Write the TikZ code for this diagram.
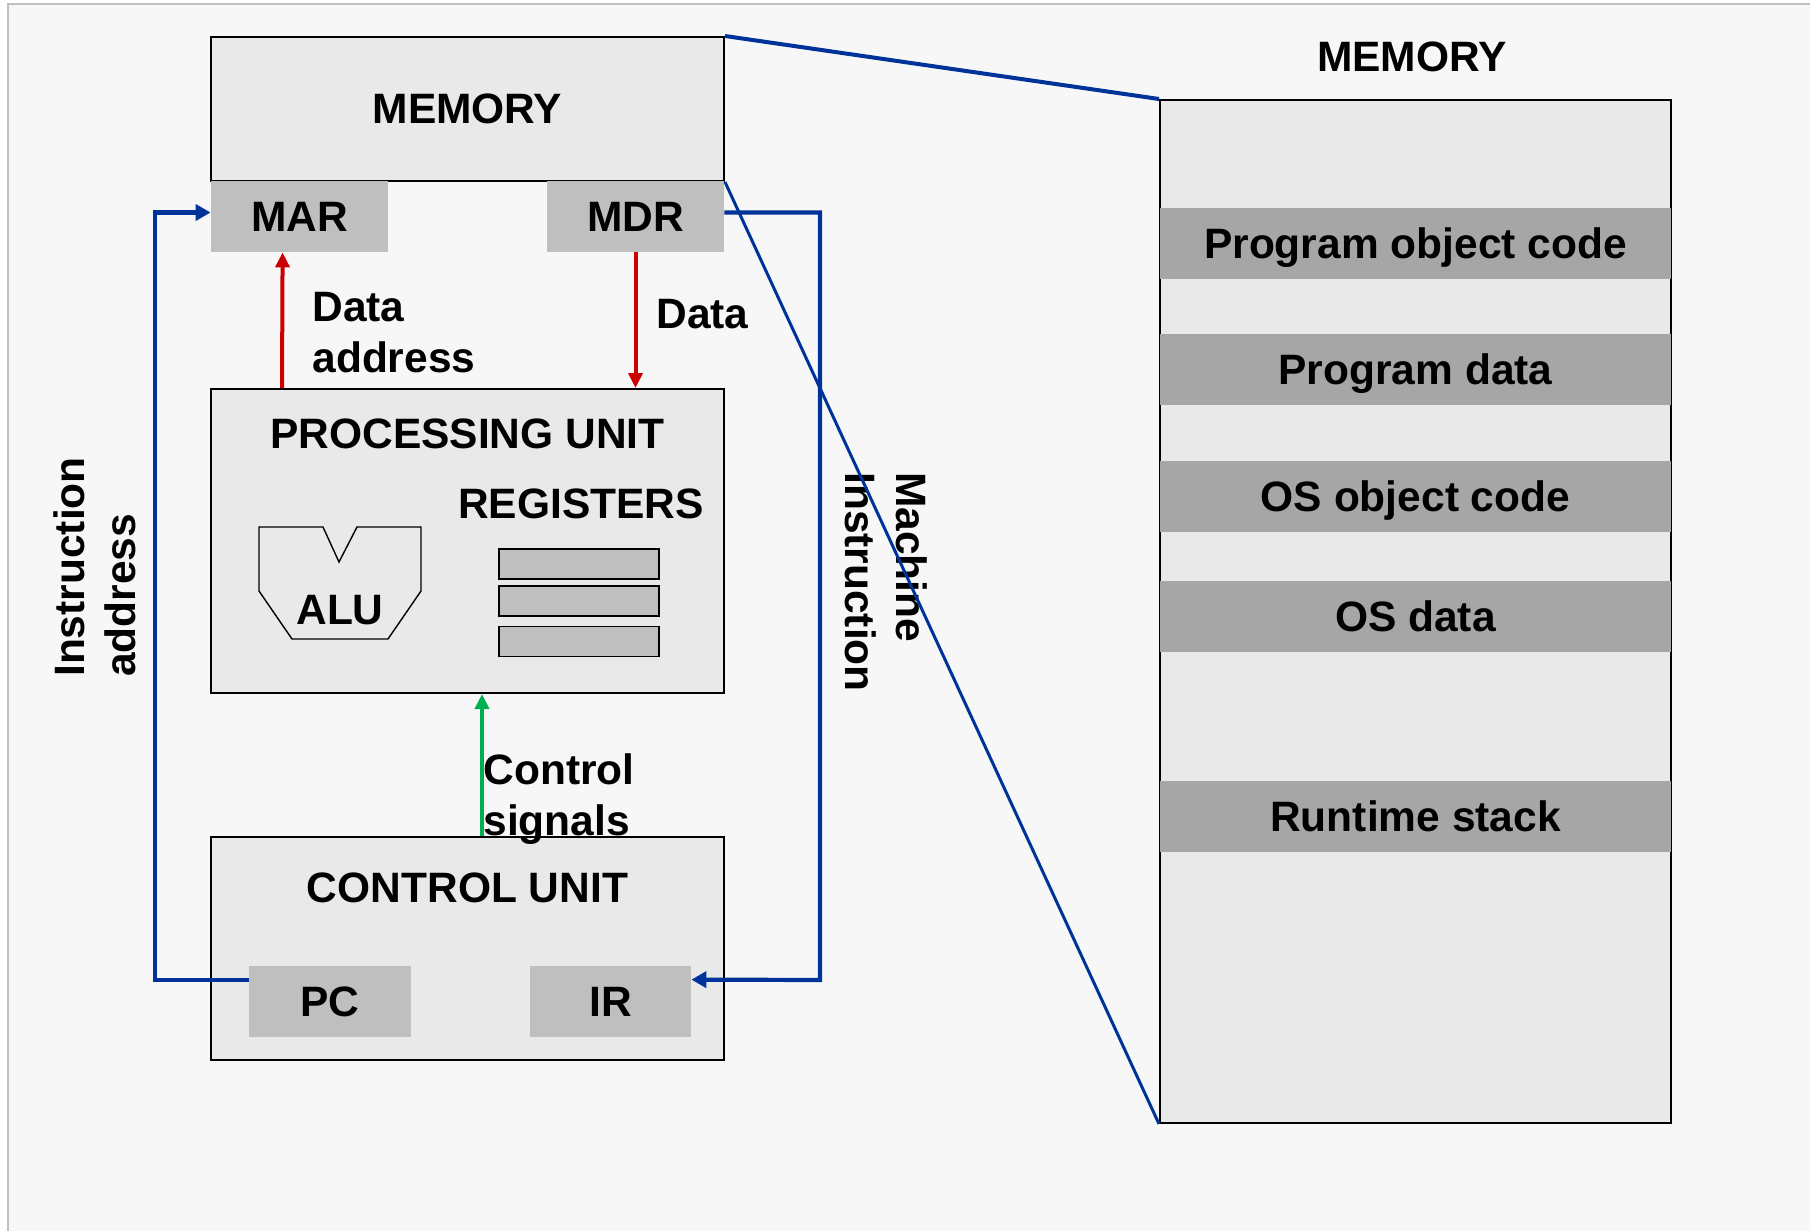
\documentclass[tikz,border=0pt]{standalone}
\usepackage{fontspec}
\setmainfont{Liberation Sans}
\usepackage{xcolor}
\usetikzlibrary{arrows.meta, positioning, calc}

\definecolor{bgcol}{HTML}{F7F7F7}
\definecolor{framecol}{HTML}{C0C0C0}
\definecolor{boxcol}{HTML}{E9E9E9}
\definecolor{regcol}{HTML}{BFBFBF}
\definecolor{bandcol}{HTML}{A6A6A6}
\definecolor{buscol}{HTML}{003399}
\definecolor{datacol}{HTML}{CC0000}
\definecolor{ctrlcol}{HTML}{00B050}

\begin{document}
\begin{tikzpicture}[x=0.5pt, y=-0.5pt,
    every node/.style={font=\fontsize{21.25}{25.5}\selectfont\bfseries},
    unit/.style={draw=black, line width=1pt, fill=boxcol, inner sep=0pt},
    reg/.style={fill=regcol, minimum height=35.5pt, inner sep=0pt, text height=15.3pt, text depth=0pt},
    regcell/.style={draw=black, line width=0.8pt, fill=regcol, minimum width=80pt, minimum height=15pt, inner sep=0pt},
    band/.style={fill=bandcol, minimum width=255.5pt, minimum height=35.5pt, inner sep=0pt, text height=15.3pt, text depth=0pt},
    bus/.style={draw=buscol, line width=2.1pt},
    busarrow/.style={bus, -{Triangle[length=7.5pt, width=8pt]}},
    dataarrow/.style={draw=datacol, line width=2pt, -{Triangle[length=7.5pt, width=7pt]}},
    ctrlarrow/.style={draw=ctrlcol, line width=2pt, -{Triangle[length=7.5pt, width=7pt]}},
  ]
    \useasboundingbox (0,0) rectangle (1810,1231);

    % page
    \fill[white] (0,0) rectangle (1810,1231);
    \fill[bgcol] (8,4) rectangle (1810,1231);
    \draw[framecol, line width=1pt] (8,1231) -- (8,4) -- (1810,4);

    % Memory
    \node[unit, minimum width=256.5pt, minimum height=72pt] (mem) at (467.5,109) {MEMORY};
    \node[reg, minimum width=88.5pt] (mar) at (299.5,216.5) {MAR};
    \node[reg, minimum width=88.5pt] (mdr) at (635.5,216.5) {MDR};

    % Processing unit
    \node[unit, minimum width=256.5pt, minimum height=152pt] (pu) at (467.5,541) {};
    \node (putitle) at (467.5,434) {PROCESSING UNIT};
    \node (regtitle) at (581,504) {REGISTERS};
    \draw[line width=0.7pt] (259,527) -- (323,527) -- (339,562) -- (357,527) -- (421,527)
      -- (421,591) -- (388,639) -- (292,639) -- (259,591) -- cycle;
    \node (alu) at (340,610) {ALU};
    \foreach \y [count=\i] in {564,601,641.5}
      \node[regcell] (reg\i) at (579,\y) {};

    % Control unit
    \node[unit, minimum width=256.5pt, minimum height=111.5pt] (cu) at (467.5,948.5) {};
    \node (cutitle) at (467.5,888) {CONTROL UNIT};
    \node[reg, minimum width=81pt] (pc) at (330,1001.5) {PC};
    \node[reg, minimum width=80.5pt] (ir) at (610.5,1001.5) {IR};

    % Memory map
    \node (maptitle) at (1412,57) {MEMORY};
    \node[unit, minimum width=255.5pt, minimum height=511.5pt] (map) at (1415.5,611.5) {};
    \node[band] (seg1) at (1415.5,243.5) {Program object code};
    \node[band] (seg2) at (1415.5,369) {Program data};
    \node[band] (seg3) at (1415.5,496.5) {OS object code};
    \node[band] (seg4) at (1415.5,616.5) {OS data};
    \node[band] (seg5) at (1415.5,816) {Runtime stack};

    % Buses
    \coordinate (iabend) at (155,212.5);
    \coordinate (mibend) at (820,980);
    \draw[busarrow] ([yshift=-7pt]pc.north west) -| (iabend) -- ([yshift=2pt]mar.west);
    \draw[busarrow] ([yshift=2pt]mdr.east) -| (mibend) -- ([yshift=-7pt]ir.north east);
    \draw[dataarrow] ([xshift=36pt]pu.north west) -- ([xshift=36pt]mar.south west);
    \draw[dataarrow] (mdr.south) -- (mdr.south |- pu.north);
    \draw[ctrlarrow] ([xshift=136pt]cu.north west) -- ([xshift=136pt]pu.south west);

    % Labels
    \node[align=left, anchor=west, inner xsep=0pt] (dalabel) at (312,333) {Data\\address};
    \node[anchor=west, inner xsep=0pt] (dlabel) at (656,314) {Data};
    \node[align=left, anchor=west, inner xsep=0pt] (cslabel) at (483,799) {Control\\signals};
    \node[align=left, rotate=90] (ialabel) at (95,567) {Instruction\\address};
    \node[align=left, rotate=-90] (milabel) at (886,582) {Machine\\Instruction};

    % Zoom lines
    \draw[bus, line width=2pt] (mem.north east) -- (map.north west);
    \draw[bus, line width=1.5pt] (mem.south east) -- (map.south west);
  \end{tikzpicture}
\end{document}
